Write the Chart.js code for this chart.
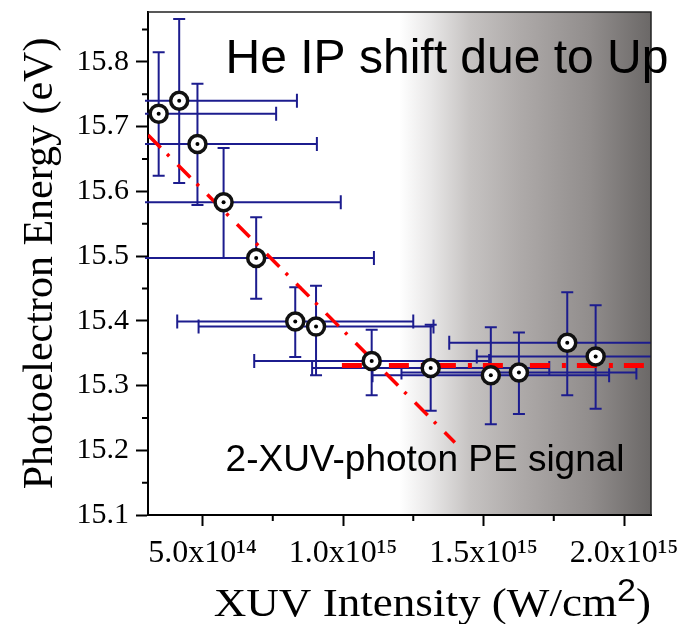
<!DOCTYPE html>
<html>
<head>
<meta charset="utf-8">
<title>He IP shift due to Up</title>
<script src="https://cdn.jsdelivr.net/npm/chart.js@4.4.1/dist/chart.umd.min.js"></script>
<style>
  body { margin: 0; background: #fff; }
  canvas { display: block; }
</style>
</head>
<body>
<canvas id="ipChart" width="679" height="624"></canvas>
<script>
// intensity in units of 1e15 W/cm2, energy in eV
const intensity = [0.344, 0.417, 0.482, 0.575, 0.691, 0.830, 0.904, 1.102, 1.312, 1.526, 1.626, 1.798, 1.899];
const intensityErr = [0.418, 0.419, 0.425, 0.417, 0.419, 0.420, 0.418, 0.418, 0.422, 0.421, 0.418, 0.420, 0.423];
const energy = [15.720, 15.740, 15.673, 15.583, 15.497, 15.399, 15.391, 15.338, 15.327, 15.316, 15.320, 15.366, 15.345];
const energyHigh = [15.815, 15.866, 15.766, 15.667, 15.560, 15.452, 15.454, 15.386, 15.394, 15.390, 15.382, 15.444, 15.424];
const energyLow = [15.624, 15.613, 15.579, 15.497, 15.434, 15.344, 15.316, 15.285, 15.261, 15.240, 15.256, 15.285, 15.264];

// the two red fits
const slopeFitX = [0.306, 1.398];
const slopeFitY = [15.687, 15.212];
const flatFitX = [0.996, 2.074];
const flatFitY = [15.331, 15.331];

const xTicks = [0.5, 1.0, 1.5, 2.0];
const xTickLabels = ["5.0x10\u00b9\u2074", "1.0x10\u00b9\u2075", "1.5x10\u00b9\u2075", "2.0x10\u00b9\u2075"];
const xMinorTicks = [0.75, 1.25, 1.75];
const yTicks = [15.1, 15.2, 15.3, 15.4, 15.5, 15.6, 15.7, 15.8];
const yMinorTicks = [15.15, 15.25, 15.35, 15.45, 15.55, 15.65, 15.75, 15.85];

const notes = [
  { text: "He IP shift due to Up", x: 0.582, y: 15.782, size: 48 },
  { text: "2-XUV-photon PE signal", x: 0.582, y: 15.168, size: 37 }
];

// where the grey shading of the 2-photon region starts
const shadeStart = 1.2;

document.addEventListener("DOMContentLoaded", function () {
  const canvas = document.getElementById("ipChart");
  const ctx = canvas.getContext("2d");
  const serif = "'Liberation Serif', 'Times New Roman', serif";

  const backdrop = {
    id: "backdrop",
    beforeDraw(chart) {
      const { ctx, chartArea: a, scales: { x } } = chart;
      const x0 = x.getPixelForValue(shadeStart);
      const g = ctx.createLinearGradient(x0, 0, a.right, 0);
      g.addColorStop(0, "#ffffff");
      g.addColorStop(0.12, "#e9e8e8");
      g.addColorStop(0.28, "#c6c3c2");
      g.addColorStop(0.48, "#aeaaa9");
      g.addColorStop(0.76, "#918d8c");
      g.addColorStop(1, "#6b6867");
      ctx.save();
      ctx.fillStyle = g;
      ctx.fillRect(x0, a.top, a.right - x0, a.bottom - a.top);
      ctx.restore();
    }
  };

  const errorBars = {
    id: "errorBars",
    beforeDatasetsDraw(chart) {
      const { ctx, chartArea: a, scales: { x, y } } = chart;
      ctx.save();
      ctx.beginPath();
      ctx.rect(a.left - 3, a.top, a.right - a.left + 3, a.bottom - a.top);
      ctx.clip();
      ctx.strokeStyle = "#1c1c8e";
      ctx.lineWidth = 2;
      intensity.forEach(function (v, i) {
        const px = x.getPixelForValue(v);
        const py = y.getPixelForValue(energy[i]);
        const xl = x.getPixelForValue(v - intensityErr[i]);
        const xr = x.getPixelForValue(v + intensityErr[i]);
        const yt = y.getPixelForValue(energyHigh[i]);
        const yb = y.getPixelForValue(energyLow[i]);
        ctx.beginPath();
        ctx.moveTo(xl, py); ctx.lineTo(xr, py);
        ctx.moveTo(xl, py - 7); ctx.lineTo(xl, py + 7);
        ctx.moveTo(xr, py - 7); ctx.lineTo(xr, py + 7);
        ctx.moveTo(px, yt); ctx.lineTo(px, yb);
        ctx.moveTo(px - 6, yt); ctx.lineTo(px + 6, yt);
        ctx.moveTo(px - 6, yb); ctx.lineTo(px + 6, yb);
        ctx.stroke();
      });
      ctx.restore();
    }
  };

  const frame = {
    id: "frame",
    afterDraw(chart) {
      const { ctx, chartArea: a, scales: { x, y } } = chart;
      ctx.save();
      ctx.strokeStyle = "#222";
      ctx.lineWidth = 1.5;
      ctx.beginPath();
      ctx.moveTo(a.left, a.top); ctx.lineTo(a.right, a.top); ctx.lineTo(a.right, a.bottom);
      ctx.stroke();

      // minor ticks
      ctx.strokeStyle = "#000";
      ctx.lineWidth = 2;
      ctx.beginPath();
      yMinorTicks.forEach(function (v) {
        const py = y.getPixelForValue(v);
        ctx.moveTo(a.left - 6, py); ctx.lineTo(a.left, py);
      });
      xMinorTicks.forEach(function (v) {
        const px = x.getPixelForValue(v);
        ctx.moveTo(px, a.bottom); ctx.lineTo(px, a.bottom + 6);
      });
      ctx.stroke();

      ctx.fillStyle = "#000";
      ctx.textBaseline = "alphabetic";
      notes.forEach(function (n) {
        ctx.font = n.size + "px 'Liberation Sans', Arial, sans-serif";
        ctx.fillText(n.text, x.getPixelForValue(n.x), y.getPixelForValue(n.y));
      });

      // x axis title, right aligned, with a raised "2"
      const main = "XUV Intensity (W/cm";
      ctx.translate(a.right, a.bottom + 101);
      ctx.scale(1.1, 1);
      ctx.font = "41px " + serif;
      const w1 = ctx.measureText(main).width;
      const w3 = ctx.measureText(")").width;
      ctx.font = "31px 'Liberation Sans', Arial, sans-serif";
      const w2 = ctx.measureText("2").width;
      let cx = -(w1 + w2 + w3);
      ctx.font = "41px " + serif;
      ctx.fillText(main, cx, 0);
      cx += w1;
      ctx.font = "31px 'Liberation Sans', Arial, sans-serif";
      ctx.fillText("2", cx, -15);
      cx += w2;
      ctx.font = "41px " + serif;
      ctx.fillText(")", cx, 0);
      ctx.restore();
    }
  };

  const points = intensity.map((v, i) => ({ x: v, y: energy[i] }));

  const ipChart = new Chart(ctx, {
    type: "scatter",
    data: {
      datasets: [
        {
          label: "centre",
          data: points,
          pointRadius: 2,
          pointBackgroundColor: "#000",
          pointBorderWidth: 0,
          order: 0,
        },
        {
          label: "PE energy",
          data: points,
          pointRadius: 8.5,
          pointBackgroundColor: "#fff",
          pointBorderColor: "#111",
          pointBorderWidth: 3.5,
          order: 1,
        },
        {
          type: "line",
          label: "1-photon fit",
          data: slopeFitX.map((v, i) => ({ x: v, y: slopeFitY[i] })),
          borderColor: "#ff0000",
          borderWidth: 3.5,
          borderDash: [18, 9, 3, 12],
          pointRadius: 0,
          fill: false,
          order: 2,
        },
        {
          type: "line",
          label: "2-photon level",
          data: flatFitX.map((v, i) => ({ x: v, y: flatFitY[i] })),
          borderColor: "#ff0000",
          borderWidth: 5,
          borderDash: [20, 12, 4, 11],
          pointRadius: 0,
          fill: false,
          order: 2,
        },
      ],
    },
    options: {
      responsive: false,
      animation: false,
      layout: {
        padding: { top: 8, right: 28, left: 0, bottom: 0 },
      },
      plugins: {
        legend: { display: false },
        tooltip: { enabled: false },
      },
      scales: {
        x: {
          type: "linear",
          min: 0.306,
          max: 2.096,
          afterBuildTicks: (s) => { s.ticks = xTicks.map((v) => ({ value: v })); },
          afterFit: (s) => { s.height = 109; s.paddingLeft = 0; s.paddingRight = 0; },
          ticks: {
            autoSkip: false,
            maxRotation: 0,
            padding: 8,
            color: "#000",
            font: { family: serif, size: 32 },
            callback: (v, i) => xTickLabels[i],
          },
          grid: {
            drawOnChartArea: false,
            tickLength: 11,
            tickColor: "#000",
            tickWidth: 2,
          },
          border: { color: "#000", width: 2 },
          title: { display: false },
        },
        y: {
          min: 15.1,
          max: 15.877,
          afterBuildTicks: (s) => { s.ticks = yTicks.map((v) => ({ value: v })); },
          afterFit: (s) => { s.width = 148; s.paddingTop = 0; s.paddingBottom = 0; },
          ticks: {
            padding: 7,
            color: "#000",
            font: { family: serif, size: 30 },
            callback: (v) => v.toFixed(1),
          },
          grid: {
            drawOnChartArea: false,
            tickLength: 12,
            tickColor: "#000",
            tickWidth: 2,
          },
          border: { color: "#000", width: 2 },
          title: {
            display: true,
            text: "Photoelectron Energy (eV)",
            color: "#000",
            font: { family: serif, size: 42 },
            padding: { top: 16, bottom: 0 },
          },
        },
      },
    },
    plugins: [backdrop, errorBars, frame],
  });
});
</script>
</body>
</html>
